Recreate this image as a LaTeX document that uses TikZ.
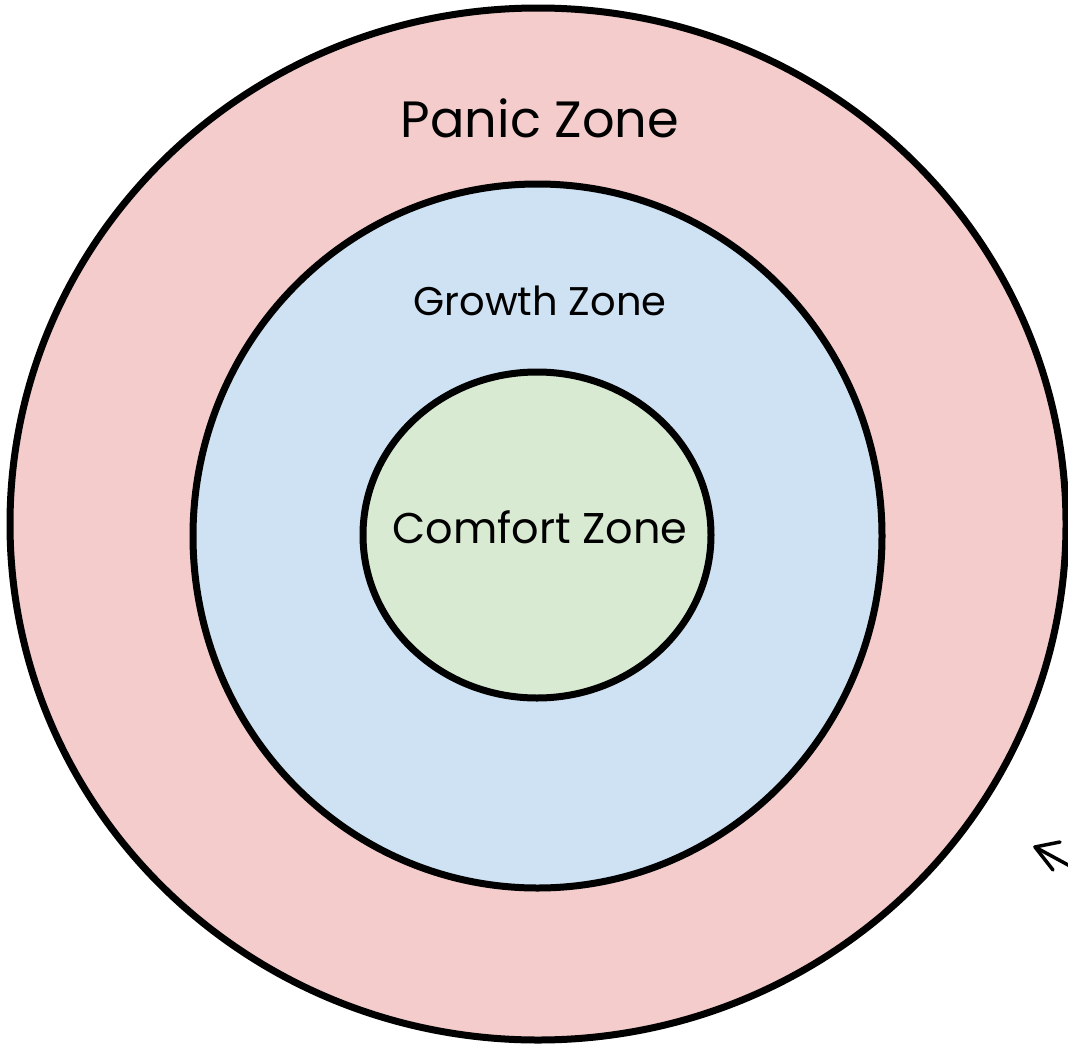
\documentclass[tikz,border=0pt]{standalone}
\usepackage{fontspec}
\setmainfont{Poppins}
\definecolor{panic}{HTML}{F4CCCC}
\definecolor{growth}{HTML}{CFE2F3}
\definecolor{comfort}{HTML}{D9EAD3}
\begin{document}
\begin{tikzpicture}[x=1pt,y=-1pt,
  zone/.style={draw=black,line width=7pt},
  lbl/.style={inner sep=0pt,text=black},
  sketch/.style={draw=black,line width=3.5pt,line cap=round,line join=round}]
\useasboundingbox (0,0) rectangle (1068,1044);
\filldraw[zone,fill=panic] (538,524) ellipse [x radius=528,y radius=516];
\filldraw[zone,fill=growth] (537.5,536) ellipse [x radius=344.5,y radius=352];
\filldraw[zone,fill=comfort] (537,535) ellipse [x radius=174,y radius=163];
\node[lbl,font=\fontsize{51}{56}\selectfont] (panic) at (540,118) {Panic Zone};
\node[lbl,font=\fontsize{40}{46}\selectfont] (growth) at (540,301) {Growth Zone};
\node[lbl,font=\fontsize{43}{48}\selectfont] (comfort) at (540,527) {Comfort Zone};
\coordinate (tip) at (1035,847);
\coordinate (barb) at (1060,842);
\coordinate (leg) at (1053,870);
\coordinate (shaft) at (1070,866);
\draw[sketch] (barb) -- (tip) -- (leg);
\draw[sketch] (tip) -- (shaft);
\end{tikzpicture}
\end{document}
